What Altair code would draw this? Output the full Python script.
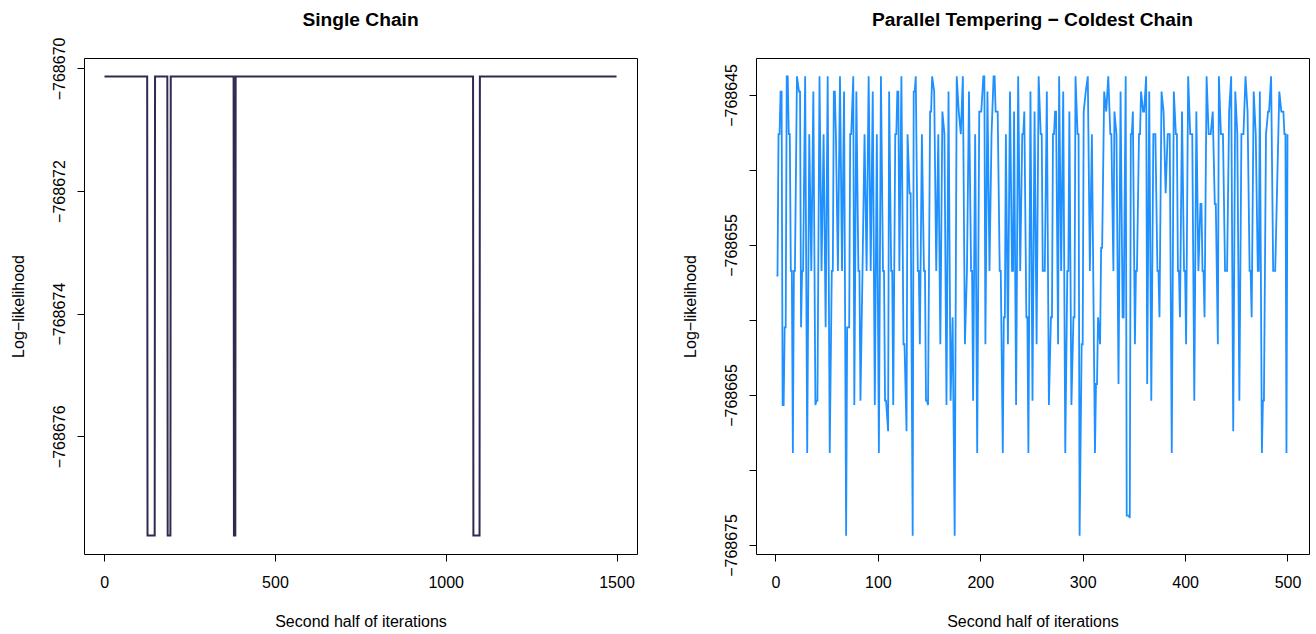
import altair as alt
import pandas as pd

# ---------------- data ----------------
# Left panel: single chain (breakpoints of the trace)
sc_iter = [1, 126, 127, 148, 149, 185, 186, 194, 195, 379, 380, 384, 385,
           1080, 1081, 1099, 1100, 1500]
sc_ll = [-768670.13, -768670.13, -768677.62, -768677.62, -768670.13, -768670.13,
         -768677.62, -768677.62, -768670.13, -768670.13, -768677.62, -768677.62,
         -768670.13, -768670.13, -768677.62, -768677.62, -768670.13, -768670.13]

# Right panel: parallel tempering, coldest chain (vertices)
pt_iter = [
    1, 2, 3, 4, 5, 6, 7, 8, 9, 10, 11, 12, 13, 14, 15, 16, 17, 18, 19, 21, 23, 24, 25, 26, 27,
    29, 31, 33, 35, 37, 39, 40, 41, 43, 45, 47, 49, 51, 53, 55, 56, 57, 58, 59, 61, 63,
    65, 67, 69, 70, 72, 73, 74, 76, 77, 79, 81, 82, 83, 85, 87, 89, 91, 93, 95, 97, 99, 101,
    103, 105, 106, 107, 108, 110, 111, 113, 114, 115, 117, 118, 119, 120, 121, 123, 125, 126,
    128, 129, 131, 132,
    134, 135, 136, 137, 139, 140, 141, 143, 145, 146, 147, 148, 149, 151, 152, 153, 155, 157,
    159, 161, 163, 165, 167, 169, 171, 173, 175, 177, 179, 181, 183, 185, 187, 189, 191, 192,
    193, 195, 197, 199, 201, 203,
    204, 205, 207, 209, 211, 213, 214, 215, 217, 219, 220, 222, 223, 224, 225, 227, 229, 231,
    232, 233, 235, 237, 239, 241, 242, 243, 245, 246, 247, 249, 251, 253, 255, 257, 259, 260,
    261, 263, 265, 267, 269, 270, 271, 272, 273,
    274, 276, 277, 279, 281, 283, 285, 286, 287, 289, 291, 292, 293, 295, 296, 297, 299, 300,
    301, 303, 305, 307, 309, 312, 313, 314, 315, 317, 318, 319, 321, 323, 325, 327, 328, 330,
    331, 333, 335, 337, 339, 340, 342, 343,
    344, 345, 346, 347, 348, 349, 351, 352, 353, 355, 356, 357, 359, 360, 362, 363, 365, 367,
    369, 371, 373, 374, 375, 377, 379, 381, 383, 385, 387, 389, 391, 392, 393, 394, 395, 397,
    399, 400, 401, 403, 405, 407, 409, 411, 413,
    415, 416, 417, 418, 419, 421, 423, 425, 427, 429, 430, 432, 433, 435, 437, 439, 441, 443,
    445, 447, 449, 451, 453, 455, 457, 459, 461, 463, 464, 465, 467, 469, 471, 472, 473, 475,
    476, 477, 479, 481, 482, 484,
    486, 488, 492, 494, 496, 497, 498, 499, 500,
]
pt_ll = [
    # 1-63
    -768657.04, -768657.04, -768647.62, -768647.62, -768644.78, -768644.78, -768665.67,
    -768665.67, -768660.49, -768660.49, -768643.76, -768643.76, -768647.62, -768647.62,
    -768656.73, -768656.73, -768668.87, -768656.73, -768656.73, -768643.76, -768644.78,
    -768644.78, -768660.49, -768656.73, -768656.73, -768643.76, -768668.87, -768647.62,
    -768656.73, -768644.78, -768665.67, -768665.38, -768665.38, -768643.76, -768656.73,
    -768647.62, -768660.49, -768643.76, -768668.87, -768656.73, -768656.73, -768644.78,
    -768644.78, -768647.62, -768656.73, -768643.76,
    # 65-132
    -768656.73, -768644.78, -768674.38, -768660.49, -768660.49, -768647.62, -768647.62,
    -768643.76, -768665.67, -768644.78, -768656.73, -768656.73, -768665.38, -768656.73,
    -768647.62, -768656.73, -768643.76, -768656.73, -768644.78, -768665.67, -768647.62,
    -768668.87, -768643.76, -768656.73, -768656.73, -768665.38, -768665.38, -768667.42,
    -768644.78, -768656.73, -768656.73, -768665.67, -768647.62, -768647.62, -768644.78,
    -768644.78, -768656.73, -768643.76, -768661.62, -768661.62, -768667.42, -768647.62,
    -768651.56, -768651.56,
    # 134-203
    -768674.38, -768644.78, -768644.78, -768643.76, -768656.73, -768656.73, -768661.62,
    -768647.62, -768656.73, -768656.73, -768665.38, -768665.38, -768665.67, -768646.11,
    -768646.11, -768643.76, -768644.78, -768656.73, -768647.62, -768661.62, -768646.11,
    -768647.62, -768665.67, -768644.78, -768665.38, -768659.82, -768674.38, -768643.76,
    -768646.11, -768647.62, -768643.76, -768661.62, -768656.73, -768644.78, -768656.73,
    -768656.73, -768665.38, -768647.62, -768668.87, -768646.11, -768646.11, -768643.76,
    # 204-273
    -768643.76, -768661.62, -768644.78, -768656.73, -768647.62, -768643.76, -768643.76,
    -768646.11, -768646.11, -768656.73, -768656.73, -768668.87, -768659.82, -768659.82,
    -768647.62, -768661.62, -768644.78, -768656.73, -768656.73, -768646.11, -768665.67,
    -768643.76, -768656.73, -768647.62, -768647.62, -768646.11, -768659.82, -768659.82,
    -768668.87, -768644.78, -768665.38, -768646.11, -768661.62, -768643.76, -768647.62,
    -768647.62, -768656.73, -768656.73, -768644.78, -768665.67, -768659.82, -768659.82,
    -768647.62, -768647.62, -768646.11,
    # 274-343
    -768646.11, -768661.62, -768643.76, -768656.73, -768644.78, -768668.87, -768656.73,
    -768656.73, -768646.11, -768665.67, -768659.82, -768659.82, -768643.76, -768647.62,
    -768647.62, -768674.38, -768661.62, -768661.62, -768646.11, -768644.78, -768643.76,
    -768656.73, -768647.62, -768668.87, -768664.27, -768664.27, -768659.82, -768661.62,
    -768655.20, -768655.20, -768644.78, -768646.11, -768643.76, -768647.62, -768647.62,
    -768656.73, -768646.11, -768647.62, -768664.27, -768644.78, -768659.82, -768659.82,
    -768643.76, -768673.04,
    # 344-413
    -768673.04, -768673.04, -768673.20, -768647.62, -768647.62, -768646.11, -768661.62,
    -768656.73, -768656.73, -768647.62, -768647.62, -768644.78, -768646.11, -768646.11,
    -768643.76, -768664.27, -768644.78, -768665.38, -768647.62, -768647.62, -768656.73,
    -768656.73, -768659.82, -768644.78, -768646.11, -768651.56, -768647.62, -768647.62,
    -768668.87, -768644.78, -768647.62, -768647.62, -768656.73, -768656.73, -768659.82,
    -768646.11, -768656.73, -768656.73, -768661.62, -768643.76, -768647.62, -768647.62,
    -768665.38, -768646.11, -768656.73,
    # 415-484
    -768652.27, -768652.27, -768656.73, -768656.73, -768659.82, -768643.76, -768647.62,
    -768647.62, -768646.11, -768652.27, -768652.27, -768661.62, -768643.76, -768647.62,
    -768647.62, -768656.73, -768656.73, -768646.11, -768643.76, -768667.42, -768644.78,
    -768647.62, -768665.38, -768647.62, -768647.62, -768643.76, -768646.11, -768656.73,
    -768656.73, -768659.82, -768644.78, -768647.62, -768656.73, -768656.73, -768644.78,
    -768668.87, -768665.38, -768665.38, -768647.62, -768646.11, -768646.11, -768643.76,
    # 486-500
    -768656.73, -768656.73, -768644.78, -768646.11, -768646.11, -768647.62, -768647.62,
    -768668.87, -768647.62,
]

left_x_ticks = [0, 500, 1000, 1500]
left_y_ticks = [-768676, -768674, -768672, -768670]
right_x_ticks = [0, 100, 200, 300, 400, 500]
right_y_ticks = [-768675, -768670, -768665, -768660, -768655, -768650, -768645]

left_title = "Single Chain"
right_title = "Parallel Tempering \u2212 Coldest Chain"
x_title = "Second half of iterations"
y_title = "Log\u2212likelihood"

FONT = "Liberation Sans"
FS = 16
W, H = 553, 496


def panel(df, color, sw, xdom, ydom, xticks, yticks, title, label_expr=None):
    yaxis_kw = dict(
        values=yticks, format="d", labelAngle=270, labelAlign="center",
        labelBaseline="alphabetic", labelPadding=13, tickSize=7,
        title=y_title, titleAngle=270, titleX=-61, titleY=H / 2,
        titleAlign="center", titleBaseline="alphabetic",
        labelOverlap=False, labelFlush=False,
    )
    if label_expr:
        yaxis_kw["labelExpr"] = label_expr
    xaxis = alt.Axis(
        values=xticks, format="d", labelAngle=0, labelAlign="center",
        labelBaseline="alphabetic", labelPadding=26.5, tickSize=7,
        title=x_title, titleX=W / 2, titleY=72, titleAlign="center",
        titleBaseline="alphabetic", labelOverlap=False, labelFlush=False,
    )
    line = (
        alt.Chart(df)
        .mark_line(color=color, strokeWidth=sw, strokeJoin="miter")
        .encode(
            x=alt.X("it:Q", scale=alt.Scale(domain=xdom, nice=False, zero=False), axis=xaxis),
            y=alt.Y("ll:Q", scale=alt.Scale(domain=ydom, nice=False, zero=False),
                    axis=alt.Axis(**yaxis_kw)),
        )
    )
    head = (
        alt.Chart(pd.DataFrame({"t": [title]}))
        .mark_text(font=FONT, fontSize=19.2, fontWeight="bold", align="center",
                   baseline="alphabetic", color="black")
        .encode(x=alt.value(W / 2), y=alt.value(-32.5), text="t:N")
    )
    return alt.layer(line, head).properties(width=W, height=H)


left_df = pd.DataFrame({"it": sc_iter, "ll": sc_ll})
right_df = pd.DataFrame({"it": pt_iter, "ll": pt_ll})

left = panel(left_df, "#2f2a4f", 2, [-58.96, 1559.96], [-768677.92, -768669.83],
             left_x_ticks, left_y_ticks, left_title)
right = panel(right_df, "#1e90ff", 1.8, [-19, 521], [-768675.6, -768642.54],
              right_x_ticks, right_y_ticks, right_title,
              label_expr="abs(datum.value) % 10 == 5 ? format(datum.value, 'd') : ''")

chart = (
    alt.hconcat(left, right, spacing=119, bounds="flush")
    .properties(padding={"left": 9, "top": 10, "right": 2, "bottom": 2}, background="white")
    .configure_view(stroke="black", strokeWidth=1)
    .configure_axis(grid=False, domain=False, tickColor="black", tickWidth=1,
                    labelColor="black", titleColor="black", labelFont=FONT,
                    titleFont=FONT, labelFontSize=FS, titleFontSize=FS,
                    titleFontWeight="normal")
)

chart.save("out.html", embed_options={"renderer": "svg", "actions": False})
